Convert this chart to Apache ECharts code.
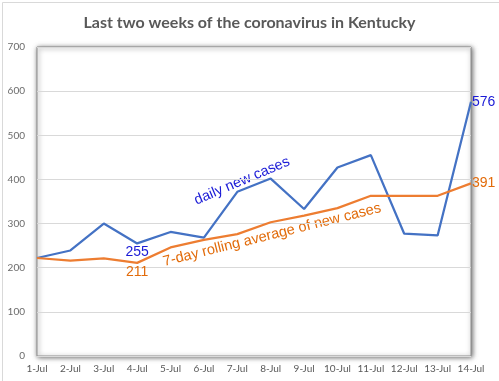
<!DOCTYPE html>
<html><head><meta charset="utf-8">
<script src="https://cdn.jsdelivr.net/npm/echarts@6/dist/echarts.min.js"></script>
<style>html,body{margin:0;padding:0;background:#fff}#c{width:499px;height:381px}</style>
</head><body><div id="c"></div>
<script>
const categories = ['1-Jul','2-Jul','3-Jul','4-Jul','5-Jul','6-Jul','7-Jul','8-Jul','9-Jul','10-Jul','11-Jul','12-Jul','13-Jul','14-Jul'];
const dailyCases = [222, 239, 300, 255, 281, 268, 372, 402, 333, 427, 455, 277, 273, 576];
const rollingAvg = [222, 216, 221, 211, 246, 263, 276, 303, 318, 335, 363, 363, 363, 391];
const yTicks = [0, 100, 200, 300, 400, 500, 600, 700];
const labeledDaily = [3, 13];
const labeledAvg = [3, 13];

const blueLine = '#4472C4', orangeLine = '#ED7D31';
const blueText = '#1a1ad6', orangeText = '#e26b0a';

function items(vals, idxs, color, pos) {
  return vals.map((v, i) => {
    const last = i === vals.length - 1;
    if (!idxs.includes(i)) return {value: v, label: {show: false}};
    return {value: v, label: {show: true, position: last ? 'right' : pos, distance: last ? 1 : 2, color: color,
      fontFamily: 'Liberation Sans', fontSize: 14, formatter: '{c}'}};
  });
}

const chart = echarts.init(document.getElementById('c'), null, {renderer: 'canvas'});
chart.setOption({
  animation: false,
  backgroundColor: '#fff',
  title: {text: 'Last two weeks of the coronavirus in Kentucky', left: 'center', top: 10,
    textStyle: {fontFamily: 'Lato', fontWeight: 'bold', fontSize: 16, color: '#595959'}},
  grid: {left: 37, right: 28, top: 47, bottom: 25, show: true, backgroundColor: '#fff',
    borderColor: '#8c8c8c', borderWidth: 1, shadowColor: 'rgba(0,0,0,0.6)', shadowBlur: 5, shadowOffsetX: 1, shadowOffsetY: 1},
  xAxis: {type: 'category', data: categories, boundaryGap: false,
    axisLine: {show: false}, axisTick: {show: false},
    axisLabel: {interval: 0, margin: 8, color: '#595959', fontFamily: 'Lato', fontSize: 10}},
  yAxis: {type: 'value', min: yTicks[0], max: yTicks[yTicks.length - 1], interval: 100,
    axisLine: {show: false}, axisTick: {show: false},
    axisLabel: {margin: 12, color: '#6b6b6b', fontFamily: 'Lato', fontSize: 10},
    splitLine: {lineStyle: {color: '#d9d9d9', width: 1}}},
  series: [
    {name: 'daily new cases', type: 'line', data: items(dailyCases, labeledDaily, blueText, 'bottom'),
      showSymbol: true, symbol: 'circle', symbolSize: 0.01, lineStyle: {color: blueLine, width: 2.25}, itemStyle: {color: blueLine}},
    {name: '7-day rolling average of new cases', type: 'line', data: items(rollingAvg, labeledAvg, orangeText, 'bottom'),
      showSymbol: true, symbol: 'circle', symbolSize: 0.01, lineStyle: {color: orangeLine, width: 2.25}, itemStyle: {color: orangeLine}}
  ],
  graphic: [
    {type: 'rect', left: 0, top: 0, shape: {x: 0.5, y: 0.5, width: 497, height: 379}, style: {fill: 'none', stroke: '#d9d9d9', lineWidth: 1}, silent: true},
    {type: 'text', x: 242, y: 181, rotation: 23 * Math.PI / 180,
      style: {text: 'daily new cases', fill: blueText, font: '14.5px "Liberation Sans"', textAlign: 'center', textVerticalAlign: 'middle'}},
    {type: 'text', x: 272, y: 235, rotation: 14 * Math.PI / 180,
      style: {text: '7-day rolling average of new cases', fill: orangeText, font: '14.5px "Liberation Sans"', textAlign: 'center', textVerticalAlign: 'middle'}}
  ]
});
</script></body></html>
